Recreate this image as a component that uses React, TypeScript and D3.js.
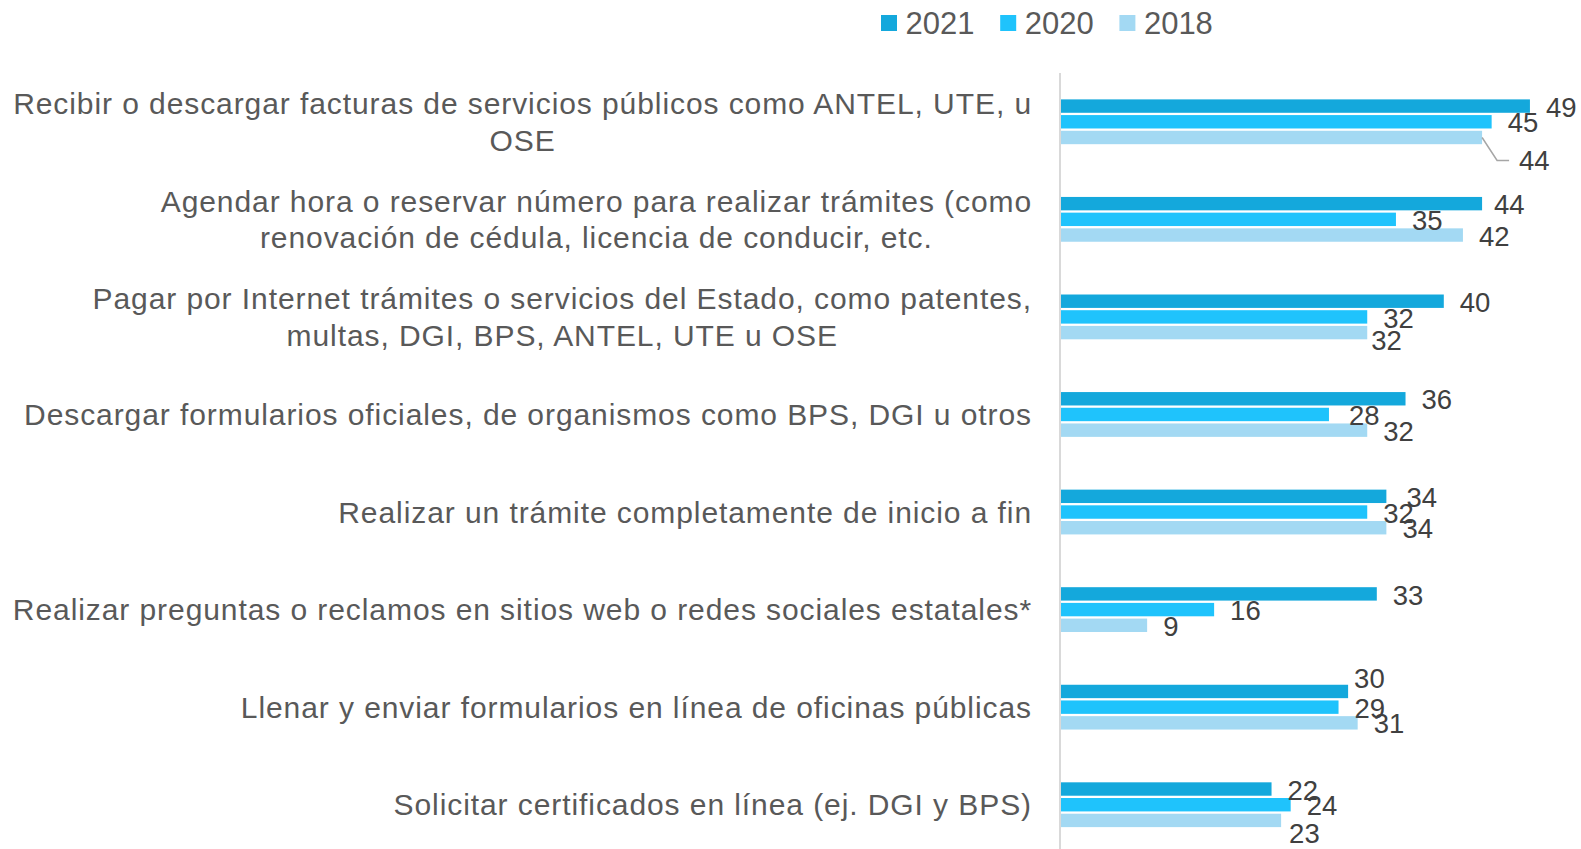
import { useEffect, useRef } from "react"
import * as d3 from "d3"

// Categories (top to bottom), "\n" marks the line break used in the chart
const categories = [
  "Recibir o descargar facturas de servicios públicos como ANTEL, UTE, u\nOSE",
  "Agendar hora o reservar número para realizar trámites (como\nrenovación de cédula, licencia de conducir, etc.",
  "Pagar por Internet trámites o servicios del Estado, como patentes,\nmultas, DGI, BPS, ANTEL, UTE u OSE",
  "Descargar formularios oficiales, de organismos como BPS, DGI u otros",
  "Realizar un trámite completamente de inicio a fin",
  "Realizar preguntas o reclamos en sitios web o redes sociales estatales*",
  "Llenar y enviar formularios en línea de oficinas públicas",
  "Solicitar certificados en línea (ej. DGI y BPS)",
]

const seriesNames = ["2021", "2020", "2018"]
const values2021 = [49, 44, 40, 36, 34, 33, 30, 22]
const values2020 = [45, 35, 32, 28, 32, 16, 29, 24]
const values2018 = [44, 42, 32, 32, 34, 9, 31, 23]

const seriesColors = ["#14A8DC", "#1FC3FC", "#A3D9F3"]

// label nudges where the original labels were moved by hand
const labelNudges = [
  { s: 2, c: 0, dx: 21, dy: 22, leader: true },
  { s: 0, c: 1, dx: -4, dy: 0 },
  { s: 2, c: 2, dx: -12, dy: 7 },
  { s: 1, c: 3, dx: 4, dy: 0 },
  { s: 0, c: 4, dx: 4, dy: 0 },
  { s: 0, c: 6, dx: -10, dy: -14 },
  { s: 2, c: 7, dx: -8, dy: 12 },
]

const W = 1581
const H = 849

const App = () => {
  const svgRef = useRef<SVGSVGElement>(null)

  useEffect(() => {
    document.body.style.margin = "0"
    if (!svgRef.current) return
    const svg = d3.select(svgRef.current)
    svg.selectAll("*").remove()

    const series = [values2021, values2020, values2018]
    const axisX = 1060
    const labelRight = 1032

    const x = d3.scaleLinear().domain([0, 50]).range([axisX + 1, axisX + 1 + 478.5])
    const y = d3.scaleBand<number>().domain(d3.range(categories.length)).range([73, 853.5])
    const inner = d3.scaleBand<number>().domain(d3.range(3)).range([0, 44.8]).paddingInner(0.146)
    const groupOffset = (y.bandwidth() - 44.8) / 2

    // axis line
    svg
      .append("line")
      .attr("x1", axisX)
      .attr("x2", axisX)
      .attr("y1", 73)
      .attr("y2", H)
      .attr("stroke", "#D9D9D9")
      .attr("stroke-width", 2)

    // bars
    series.forEach((vals, s) => {
      svg
        .append("g")
        .selectAll("rect")
        .data(vals)
        .join("rect")
        .attr("x", x(0))
        .attr("y", (_, i) => (y(i) as number) + groupOffset + (inner(s) as number))
        .attr("width", (d) => x(d) - x(0))
        .attr("height", inner.bandwidth())
        .attr("fill", seriesColors[s])
    })

    // value labels
    series.forEach((vals, s) => {
      vals.forEach((v, i) => {
        const nudge = labelNudges.find((n) => n.s === s && n.c === i)
        const cy = (y(i) as number) + groupOffset + (inner(s) as number) + inner.bandwidth() / 2
        const lx = x(v) + 16 + (nudge ? nudge.dx : 0)
        const ly = cy + 1 + (nudge ? nudge.dy : 0)
        if (nudge && nudge.leader) {
          svg
            .append("polyline")
            .attr("points", `${x(v)},${cy} ${x(v) + 15},${ly} ${x(v) + 27},${ly}`)
            .attr("fill", "none")
            .attr("stroke", "#A6A6A6")
            .attr("stroke-width", 1.5)
        }
        svg
          .append("text")
          .attr("x", lx)
          .attr("y", ly)
          .attr("dy", "0.35em")
          .attr("font-family", "Liberation Sans, Arial, sans-serif")
          .attr("font-size", 27.5)
          .attr("fill", "#404040")
          .text(v)
      })
    })

    // category labels: block right aligned, lines centered inside the block
    categories.forEach((name, i) => {
      const lines = name.split("\n")
      const cy = (y(i) as number) + y.bandwidth() / 2
      const g = svg.append("g")
      const texts = lines.map((line, k) =>
        g
          .append("text")
          .attr("y", cy + (k - (lines.length - 1) / 2) * 36.5)
          .attr("dy", "0.35em")
          .attr("text-anchor", "middle")
          .attr("font-family", "Liberation Sans, Arial, sans-serif")
          .attr("font-size", 30)
          .attr("letter-spacing", 0.92)
          .attr("fill", "#595959")
          .text(line)
      )
      const maxW = d3.max(texts, (t) => (t.node() as SVGTextElement).getComputedTextLength()) || 0
      texts.forEach((t) => t.attr("x", labelRight - maxW / 2))
    })

    // legend
    const legend = svg.append("g").attr("transform", "translate(881,23)")
    seriesNames.forEach((name, s) => {
      const lg = legend.append("g").attr("transform", `translate(${s * 119.2},0)`)
      lg.append("rect").attr("x", 0).attr("y", -8).attr("width", 16).attr("height", 16).attr("fill", seriesColors[s])
      lg.append("text")
        .attr("x", 24.5)
        .attr("y", 0)
        .attr("dy", "0.35em")
        .attr("font-family", "Liberation Sans, Arial, sans-serif")
        .attr("font-size", 31)
        .attr("fill", "#595959")
        .text(name)
    })
  }, [])

  return (
    <div style={{ width: W, height: H, background: "#fff" }}>
      <svg ref={svgRef} width={W} height={H} style={{ display: "block" }} />
    </div>
  )
}

export default App
